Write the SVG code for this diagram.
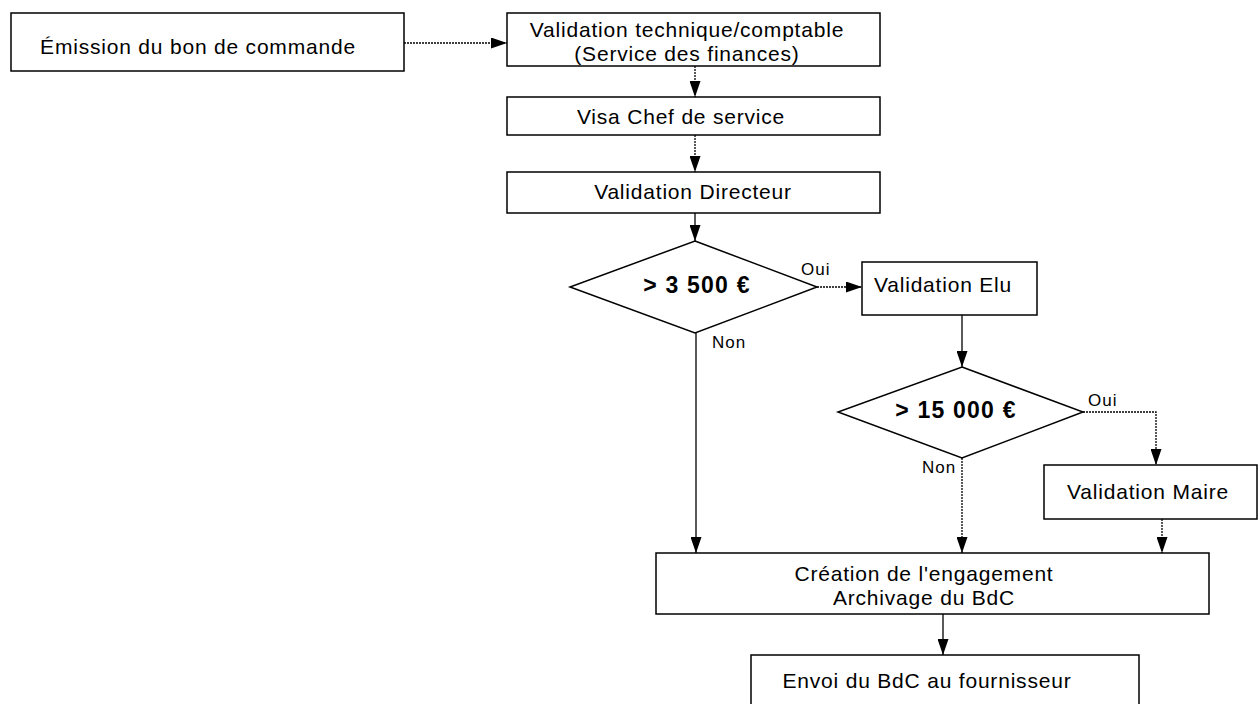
<svg xmlns="http://www.w3.org/2000/svg" width="1258" height="704" viewBox="0 0 1258 704">
<style>
.box{fill:#fff;stroke:#000;stroke-width:1.5}
.t{font-family:"Liberation Sans",Arial,sans-serif;font-size:21px;letter-spacing:0.8px;fill:#000;text-anchor:middle}
.b{font-family:"Liberation Sans",Arial,sans-serif;font-size:23px;font-weight:bold;letter-spacing:1.2px;fill:#000;text-anchor:middle}
.l{font-family:"Liberation Sans",Arial,sans-serif;font-size:17px;letter-spacing:1px;fill:#000}
.c{fill:none;stroke:#000;stroke-width:1.3}
.d{stroke-dasharray:2 1}
.a{marker-end:url(#arr)}
</style>
<defs>
<marker id="arr" markerUnits="userSpaceOnUse" markerWidth="16" markerHeight="11" refX="16" refY="5.5" orient="auto">
<path d="M0,0 L16,5.5 L0,11 z" fill="#000"/>
</marker>
</defs>
<rect width="1258" height="704" fill="#fff"/>
<g id="connectors">
<line class="c d a" x1="404" y1="43" x2="507" y2="43"/>
<line class="c d a" x1="695" y1="66" x2="695" y2="97"/>
<line class="c d a" x1="695" y1="135" x2="695" y2="172"/>
<line class="c a" x1="695" y1="213" x2="695" y2="241"/>
<line class="c d a" x1="817" y1="287" x2="862" y2="287"/>
<line class="c a" x1="962" y1="315" x2="962" y2="367"/>
<polyline class="c d a" points="1083,412 1156,412 1156,465"/>
<line class="c a" x1="696" y1="333" x2="696" y2="553"/>
<line class="c d a" x1="962" y1="458" x2="962" y2="553"/>
<line class="c d a" x1="1162" y1="519" x2="1162" y2="553"/>
<line class="c a" x1="943" y1="614" x2="943" y2="655"/>
<text class="l" x="801" y="275">Oui</text>
<text class="l" x="712" y="348">Non</text>
<text class="l" x="1088" y="406">Oui</text>
<text class="l" x="922" y="473">Non</text>
</g>
<g id="emission">
<rect class="box" x="11" y="13" width="393" height="58"/>
<text class="t" x="198" y="54">Émission du bon de commande</text>
</g>
<g id="validation-technique">
<rect class="box" x="507" y="13" width="373" height="53"/>
<text class="t" x="687" y="37">Validation technique/comptable</text>
<text class="t" x="687" y="61">(Service des finances)</text>
</g>
<g id="visa-chef">
<rect class="box" x="507" y="97" width="373" height="38"/>
<text class="t" x="681" y="124">Visa Chef de service</text>
</g>
<g id="validation-directeur">
<rect class="box" x="507" y="172" width="373" height="41"/>
<text class="t" x="693" y="199">Validation Directeur</text>
</g>
<g id="decision-3500">
<polygon class="box" points="695,241 817,287 695,333 570,287"/>
<text class="b" x="697" y="293">&gt; 3 500 €</text>
</g>
<g id="validation-elu">
<rect class="box" x="862" y="262" width="175" height="53"/>
<text class="t" x="943" y="292">Validation Elu</text>
</g>
<g id="decision-15000">
<polygon class="box" points="962,367 1083,412 962,458 838,412"/>
<text class="b" x="956" y="418">&gt; 15 000 €</text>
</g>
<g id="validation-maire">
<rect class="box" x="1044" y="465" width="213" height="54"/>
<text class="t" x="1148" y="499">Validation Maire</text>
</g>
<g id="creation-engagement">
<rect class="box" x="656" y="553" width="553" height="61"/>
<text class="t" x="924" y="581">Création de l'engagement</text>
<text class="t" x="924" y="605">Archivage du BdC</text>
</g>
<g id="envoi">
<rect class="box" x="751" y="655" width="388" height="60"/>
<text class="t" x="927" y="688">Envoi du BdC au fournisseur</text>
</g>
</svg>
